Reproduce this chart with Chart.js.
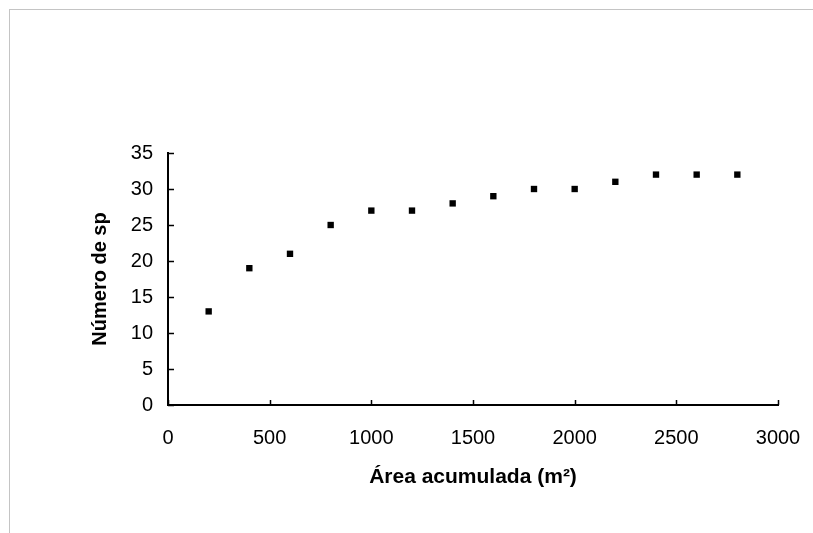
<!DOCTYPE html>
<html>
<head>
<meta charset="utf-8">
<script src="https://cdn.jsdelivr.net/npm/chart.js@4"></script>
<style>
  html, body { margin: 0; padding: 0; background: #fff; }
  #wrap { position: relative; width: 813px; height: 533px; }
  #frame { position: absolute; left: 9px; top: 9px; right: 0; bottom: 0; border-top: 1px solid #c4c4c4; border-left: 1px solid #c4c4c4; pointer-events: none; }
  canvas { position: absolute; left: 0; top: 0; }
</style>
</head>
<body>
<div id="wrap">
  <canvas id="c" width="813" height="533"></canvas>
  <div id="frame"></div>
</div>
<script>
const areaValues = [200, 400, 600, 800, 1000, 1200, 1400, 1600, 1800, 2000, 2200, 2400, 2600, 2800];
const speciesCounts = [13, 19, 21, 25, 27, 27, 28, 29, 30, 30, 31, 32, 32, 32];
const xTicks = [0, 500, 1000, 1500, 2000, 2500, 3000];
const yTicks = [0, 5, 10, 15, 20, 25, 30, 35];
const xTitle = 'Área acumulada (m²)';
const yTitle = 'Número de sp';

const points = areaValues.map((x, i) => ({ x: x, y: speciesCounts[i] }));

const innerTicks = {
  id: 'innerTicks',
  afterDatasetsDraw(chart) {
    const ctx = chart.ctx;
    const xs = chart.scales.x, ys = chart.scales.y;
    const area = chart.chartArea;
    ctx.save();
    ctx.strokeStyle = '#000';
    ctx.lineWidth = 1.5;
    ctx.beginPath();
    yTicks.forEach(v => {
      const p = Math.round(ys.getPixelForValue(v)) + 0.5;
      ctx.moveTo(area.left, p);
      ctx.lineTo(area.left + 6, p);
    });
    xTicks.forEach(v => {
      const p = Math.round(xs.getPixelForValue(v)) + 0.5;
      ctx.moveTo(p, area.bottom);
      ctx.lineTo(p, area.bottom - 5);
    });
    ctx.stroke();
    ctx.restore();
  }
};

new Chart(document.getElementById('c'), {
  type: 'scatter',
  data: {
    datasets: [{
      data: points,
      pointStyle: 'rect',
      pointRadius: 4.5,
      pointHoverRadius: 4.5,
      backgroundColor: '#000',
      borderColor: '#000',
      borderWidth: 0
    }]
  },
  options: {
    responsive: false,
    animation: false,
    events: [],
    layout: { padding: { top: 153, right: 35, left: 84, bottom: 40 } },
    plugins: { legend: { display: false }, tooltip: { enabled: false } },
    scales: {
      x: {
        type: 'linear',
        min: 0, max: 3000,
        afterBuildTicks(scale) { scale.ticks = xTicks.map(v => ({ value: v })); },
        afterFit(scale) { scale.height = 88; scale.paddingRight = 0; scale.paddingLeft = 0; },
        grid: { display: true, drawOnChartArea: false, drawTicks: false },
        border: { display: true, color: '#000', width: 2 },
        ticks: {
          color: '#000',
          padding: 21,
          maxRotation: 0,
          callback: v => String(v),
          font: { family: 'Liberation Sans, Arial, sans-serif', size: 20 }
        },
        title: {
          display: true,
          text: xTitle,
          color: '#000',
          padding: { top: 0, bottom: 3 },
          font: { family: 'Liberation Sans, Arial, sans-serif', size: 21, weight: 'bold' }
        }
      },
      y: {
        type: 'linear',
        min: 0, max: 35,
        afterBuildTicks(scale) { scale.ticks = yTicks.map(v => ({ value: v })); },
        afterFit(scale) { scale.width = 84; scale.paddingTop = 0; scale.paddingBottom = 0; },
        grid: { display: true, drawOnChartArea: false, drawTicks: false },
        border: { display: true, color: '#000', width: 2 },
        ticks: {
          color: '#000',
          padding: 15,
          font: { family: 'Liberation Sans, Arial, sans-serif', size: 20 }
        },
        title: {
          display: true,
          text: yTitle,
          color: '#000',
          padding: { top: 4, bottom: 0 },
          font: { family: 'Liberation Sans, Arial, sans-serif', size: 20, weight: 'bold' }
        }
      }
    }
  },
  plugins: [innerTicks]
});
</script>
</body>
</html>
